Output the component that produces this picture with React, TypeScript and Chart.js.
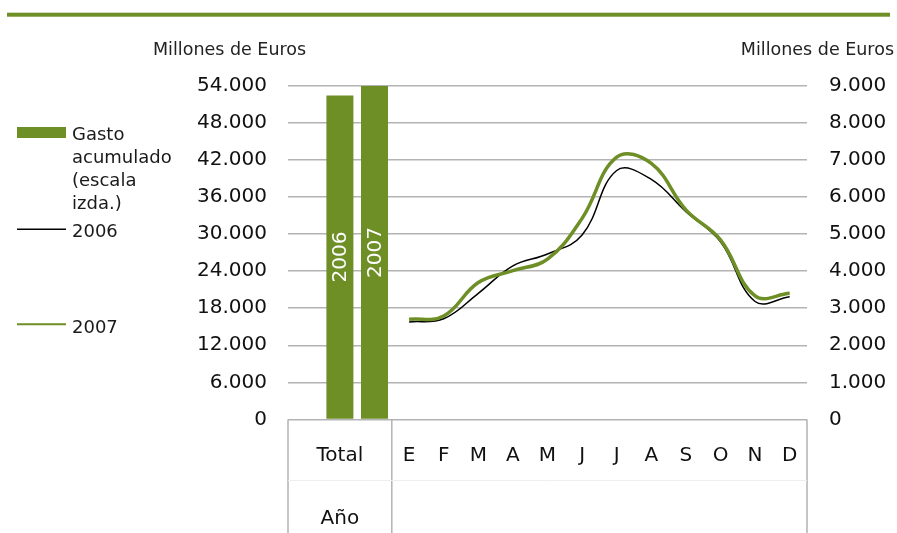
import React, { useEffect, useRef } from "react";
import { Chart, registerables } from "chart.js";

Chart.register(...registerables);

// ---------- data ----------
const months = ["E", "F", "M", "A", "M", "J", "J", "A", "S", "O", "N", "D"];
const totalLabel = ["Total", "", "Año"];
const barYears = ["2006", "2007"];
const gastoTotal = [52400, 53900];
const serie2006 = [2630, 2715, 3400, 4140, 4460, 4970, 6710, 6470, 5600, 4790, 3180, 3310];
const serie2007 = [2700, 2790, 3690, 4010, 4320, 5420, 7070, 6900, 5650, 4840, 3330, 3400];
const leftTicks = { min: 0, max: 54000, step: 6000 };
const rightTicks = { min: 0, max: 9000, step: 1000 };
const axisTitle = "Millones de Euros";
const legendGasto = ["Gasto", "acumulado", "(escala", "izda.)"];

const GREEN = "#6e8e26";
const GRID = "#b3b3b3";
const FONT = "'DejaVu Sans', sans-serif";

const fmt = (v: number) => String(v).replace(/\B(?=(\d{3})+(?!\d))/g, ".");

const labels: (string | string[])[] = ["", totalLabel, "", ...months];
const pad = (n: number) => Array.from({ length: n }, () => null);
const barData = [null, ...gastoTotal, ...pad(months.length)];
const line2006 = [...pad(3), ...serie2006];
const line2007 = [...pad(3), ...serie2007];

const decorPlugin = {
  id: "decor",
  beforeDatasetsDraw(chart: any) {
    const { ctx, chartArea, scales } = chart;
    const x = scales.x;
    const sep = (x.getPixelForTick(2) + x.getPixelForTick(3)) / 2;
    ctx.save();
    ctx.strokeStyle = GRID;
    ctx.lineWidth = 1.5;
    ctx.beginPath();
    [chartArea.left, sep, chartArea.right].forEach((px: number) => {
      ctx.moveTo(px, chartArea.bottom);
      ctx.lineTo(px, chart.height);
    });
    ctx.stroke();
    ctx.strokeStyle = "#eeeeee";
    ctx.lineWidth = 1;
    ctx.beginPath();
    ctx.moveTo(chartArea.left, 480.5);
    ctx.lineTo(chartArea.right, 480.5);
    ctx.stroke();
    ctx.restore();
  },
  afterDraw(chart: any) {
    const { ctx } = chart;
    ctx.save();
    // top rule
    ctx.fillStyle = GREEN;
    ctx.fillRect(7, 12.7, 883, 4);
    // axis titles
    ctx.fillStyle = "#222";
    ctx.font = `17.5px ${FONT}`;
    ctx.textBaseline = "alphabetic";
    ctx.textAlign = "left";
    ctx.fillText(axisTitle, 153, 55);
    ctx.textAlign = "right";
    ctx.fillText(axisTitle, 894, 55);
    // bar labels
    const meta = chart.getDatasetMeta(0);
    let k = 0;
    ctx.font = `20px ${FONT}`;
    ctx.fillStyle = "#ffffff";
    ctx.textAlign = "center";
    ctx.textBaseline = "middle";
    meta.data.forEach((el: any, i: number) => {
      const v = chart.data.datasets[0].data[i];
      if (v == null) return;
      const cy = (el.y + el.base) / 2;
      ctx.save();
      ctx.translate(el.x, cy);
      ctx.rotate(-Math.PI / 2);
      ctx.fillText(barYears[k], 0, 1);
      ctx.restore();
      k++;
    });
    // legend
    ctx.fillStyle = GREEN;
    ctx.fillRect(17, 127, 49, 11);
    ctx.fillStyle = "#1a1a1a";
    ctx.font = `18px ${FONT}`;
    ctx.textAlign = "left";
    ctx.textBaseline = "alphabetic";
    legendGasto.forEach((t, i) => ctx.fillText(t, 72, 139.5 + 23 * i));
    ctx.strokeStyle = "#000";
    ctx.lineWidth = 1.5;
    ctx.beginPath();
    ctx.moveTo(17, 229.3);
    ctx.lineTo(66, 229.3);
    ctx.stroke();
    ctx.fillText(barYears[0], 72, 236.5);
    ctx.strokeStyle = GREEN;
    ctx.lineWidth = 2;
    ctx.beginPath();
    ctx.moveTo(17, 324.3);
    ctx.lineTo(66, 324.3);
    ctx.stroke();
    ctx.fillText(barYears[1], 72, 332.5);
    ctx.restore();
  },
};

export default function App() {
  const ref = useRef<HTMLCanvasElement | null>(null);
  useEffect(() => {
    if (!ref.current) return;
    const chart = new Chart(ref.current, {
      type: "bar",
      data: {
        labels,
        datasets: [
          {
            type: "bar",
            label: "Gasto acumulado (escala izda.)",
            data: barData,
            backgroundColor: GREEN,
            borderWidth: 0,
            categoryPercentage: 1,
            barPercentage: 0.78,
            yAxisID: "y",
            order: 3,
          } as any,
          {
            type: "line",
            label: "2006",
            data: line2006,
            borderColor: "#000000",
            borderWidth: 1.5,
            pointRadius: 0,
            tension: 0.4,
            yAxisID: "y1",
            order: 2,
          },
          {
            type: "line",
            label: "2007",
            data: line2007,
            borderColor: GREEN,
            borderWidth: 3.5,
            pointRadius: 0,
            tension: 0.4,
            yAxisID: "y1",
            order: 1,
          },
        ],
      },
      options: {
        animation: false,
        responsive: false,
        layout: { padding: { left: 196, right: 0, top: 85.5, bottom: 0 } },
        plugins: { legend: { display: false }, tooltip: { enabled: false } },
        scales: {
          x: {
            offset: true,
            grid: { display: false },
            border: { display: false },
            ticks: {
              autoSkip: false,
              maxRotation: 0,
              padding: 13,
              color: "#111",
              font: { family: FONT, size: 20, lineHeight: 1.575 },
            },
            afterFit: (s: any) => {
              s.height = 113.5;
            },
          },
          y: {
            position: "left",
            min: leftTicks.min,
            max: leftTicks.max,
            border: { display: false },
            grid: { color: GRID, lineWidth: 1.5, drawTicks: false },
            ticks: {
              stepSize: leftTicks.step,
              padding: 21,
              color: "#111",
              font: { family: FONT, size: 20 },
              callback: (v: any) => fmt(Number(v)),
            },
            afterFit: (s: any) => {
              s.width = 92;
            },
          },
          y1: {
            position: "right",
            min: rightTicks.min,
            max: rightTicks.max,
            border: { display: false },
            grid: { drawOnChartArea: false, drawTicks: false },
            ticks: {
              stepSize: rightTicks.step,
              padding: 22,
              color: "#111",
              font: { family: FONT, size: 20 },
              callback: (v: any) => fmt(Number(v)),
            },
            afterFit: (s: any) => {
              s.width = 90;
            },
          },
        },
      },
      plugins: [decorPlugin],
    });
    return () => chart.destroy();
  }, []);
  return (
    <div style={{ position: "fixed", left: 0, top: 0, width: 897, height: 533, background: "#fff" }}>
      <canvas ref={ref} width={897} height={533} />
    </div>
  );
}
